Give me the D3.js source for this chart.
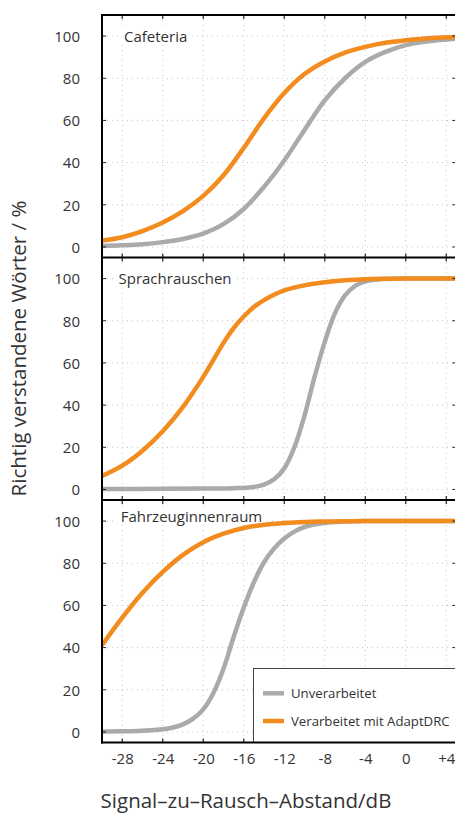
<!DOCTYPE html>
<html>
<head>
<meta charset="utf-8">
<script src="https://cdn.jsdelivr.net/npm/d3@7"></script>
<style>
  html, body { margin: 0; padding: 0; background: #fff; }
  svg { display: block; }
  text { font-family: "Open Sans", "Noto Sans", sans-serif; fill: #333; }
</style>
</head>
<body>
<svg id="chart" width="455" height="814"></svg>
<script>
// ---------- data ----------
const panelTitles = ["Cafeteria", "Sprachrauschen", "Fahrzeuginnenraum"];
const seriesNames = ["Unverarbeitet", "Verarbeitet mit AdaptDRC"];
const xTicks = [-28, -24, -20, -16, -12, -8, -4, 0, 4];
const xTickLabels = ["-28", "-24", "-20", "-16", "-12", "-8", "-4", "0", "+4"];
const yTicks = [0, 20, 40, 60, 80, 100];

// Cafeteria
const cafSnr      = [-30, -28, -26, -24, -22, -20, -18, -16, -14, -12, -10, -8, -6, -4, -2, 0, 2, 4, 5];
const cafRaw      = [0.5, 0.8, 1.3, 2.3, 3.8, 6.3, 10.8, 18, 28.5, 41, 55.5, 69.5, 80, 87.8, 92.5, 95.7, 97.4, 98.4, 98.8];
const cafDrc      = [3, 4.6, 7.5, 11.6, 17, 24.2, 34, 47, 61, 73, 82, 88, 92.2, 94.9, 96.8, 98, 98.9, 99.4, 99.6];

// Sprachrauschen
const sprRawSnr   = [-30, -24, -20, -17, -15, -14, -13, -12, -11, -10, -9, -8, -7, -6, -5, -4, -3, -2, 0, 5];
const sprRaw      = [0.2, 0.3, 0.4, 0.6, 1.2, 2.3, 4.8, 10, 20, 35, 53.5, 70, 83.5, 92, 96.6, 98.7, 99.5, 99.8, 100, 100];
const sprDrcSnr   = [-30, -28, -26, -24, -22, -20, -18, -17, -16, -15, -14, -12, -10, -8, -6, -4, -2, 0, 5];
const sprDrc      = [6.4, 11.3, 18.4, 27.6, 39.2, 53.4, 69.5, 76.5, 82, 86.5, 89.8, 94.4, 96.8, 98.3, 99.2, 99.7, 99.9, 100, 100];

// Fahrzeuginnenraum
const fzgRawSnr   = [-30, -28, -26, -24, -23, -22, -21, -20, -19, -18, -17, -16, -15, -14, -13, -12, -11, -10, -8, -6, -4, 5];
const fzgRaw      = [0.2, 0.3, 0.6, 1.3, 2.1, 3.6, 6.3, 10.7, 18.5, 30, 45, 59, 71, 80.5, 87, 91.7, 95, 97.2, 99.2, 99.8, 100, 100];
const fzgDrcSnr   = [-30, -28, -26, -24, -22, -20, -18, -16, -14, -12, -10, -8, -6, -4, 5];
const fzgDrc      = [41.1, 54.2, 66, 75.9, 84, 90, 94, 96.7, 98.3, 99.1, 99.6, 99.8, 99.9, 100, 100];

const panels = [
  { title: panelTitles[0], raw: [cafSnr, cafRaw], drc: [cafSnr, cafDrc], tx: 124, tb: 41.7 },
  { title: panelTitles[1], raw: [sprRawSnr, sprRaw], drc: [sprDrcSnr, sprDrc], tx: 118.5, tb: 283.5 },
  { title: panelTitles[2], raw: [fzgRawSnr, fzgRaw], drc: [fzgDrcSnr, fzgDrc], tx: 120.7, tb: 522 }
];

// ---------- layout ----------
const colors = { raw: "#aaaaaa", drc: "#f28c1f" };
const svg = d3.select("#chart");
const left = 102, right = 456.4;
const panelTops = [15, 257.5, 500];
const panelH = 242.5;
const bottom = panelTops[2] + panelH;

const x = d3.scaleLinear().domain([-30, 5]).range([left, right]);

const defs = svg.append("defs");

panels.forEach((p, i) => {
  const top = panelTops[i], bot = top + panelH;
  const y = d3.scaleLinear().domain([-5, 110]).range([bot, top]);
  const g = svg.append("g");

  defs.append("clipPath").attr("id", "clip" + i)
    .append("rect").attr("x", left).attr("y", top).attr("width", right - left).attr("height", panelH);

  // grid
  g.append("g").selectAll("line").data(yTicks).join("line")
    .attr("x1", left).attr("x2", right)
    .attr("y1", d => y(d)).attr("y2", d => y(d))
    .attr("stroke", "#c4c4c4").attr("stroke-width", 1).attr("stroke-dasharray", "1,4");
  g.append("g").selectAll("line").data(xTicks).join("line")
    .attr("x1", d => x(d)).attr("x2", d => x(d))
    .attr("y1", top).attr("y2", bot)
    .attr("stroke", "#c4c4c4").attr("stroke-width", 1).attr("stroke-dasharray", "1,4");

  // title with white box
  const t = g.append("text").attr("x", p.tx).attr("y", p.tb)
    .attr("font-size", 15).text(p.title);
  const bb = t.node().getBBox();
  g.insert("rect", "text").attr("x", bb.x - 5).attr("y", p.tb - 16)
    .attr("width", bb.width + 8).attr("height", 19).attr("fill", "#fff");

  // curves
  const line = d3.line().x(d => x(d[0])).y(d => y(d[1])).curve(d3.curveCatmullRom.alpha(0.5));
  const cg = g.append("g").attr("clip-path", `url(#clip${i})`);
  const rawPts = p.raw[0].map((s, k) => [s, p.raw[1][k]]);
  const drcPts = p.drc[0].map((s, k) => [s, p.drc[1][k]]);
  cg.append("path").attr("d", line(rawPts)).attr("fill", "none")
    .attr("stroke", colors.raw).attr("stroke-width", 4.5);
  cg.append("path").attr("d", line(drcPts)).attr("fill", "none")
    .attr("stroke", colors.drc).attr("stroke-width", 4.5);
  g.node().appendChild(t.node());

  // y axis labels
  const yAxis = d3.axisLeft(y).tickValues(yTicks).tickSize(0).tickPadding(0);
  const ya = g.append("g").attr("transform", "translate(80,0)").call(yAxis);
  ya.select(".domain").remove();
  ya.selectAll("text").attr("font-size", 15).attr("font-family", "Open Sans, sans-serif").attr("fill", "#333").attr("dy", "0.35em");

  // inner ticks
  g.append("g").selectAll("line").data(yTicks).join("line")
    .attr("x1", left).attr("x2", left + 4).attr("y1", d => y(d)).attr("y2", d => y(d))
    .attr("stroke", "#222").attr("stroke-width", 1);
  g.append("g").selectAll("line").data(yTicks).join("line")
    .attr("x1", right - 4).attr("x2", right).attr("y1", d => y(d)).attr("y2", d => y(d))
    .attr("stroke", "#222").attr("stroke-width", 1);
  g.append("g").selectAll("line").data(xTicks).join("line")
    .attr("x1", d => x(d)).attr("x2", d => x(d)).attr("y1", top).attr("y2", top + 4)
    .attr("stroke", "#222").attr("stroke-width", 1.2);
  g.append("g").selectAll("line").data(xTicks).join("line")
    .attr("x1", d => x(d)).attr("x2", d => x(d)).attr("y1", bot - 4).attr("y2", bot)
    .attr("stroke", "#222").attr("stroke-width", 1.2);
});

// legend
const lg = svg.append("g");
lg.append("rect").attr("x", 253.5).attr("y", 668.5).attr("width", 220).attr("height", bottom - 668.5)
  .attr("fill", "#fff").attr("stroke", "#444").attr("stroke-width", 1);
[["raw", 693.3, 697.5], ["drc", 721, 725.5]].forEach((e, k) => {
  lg.append("line").attr("x1", 263).attr("x2", 284).attr("y1", e[1]).attr("y2", e[1])
    .attr("stroke", colors[e[0]]).attr("stroke-width", 4.5);
  lg.append("text").attr("x", 291).attr("y", e[2]).attr("font-size", 13.2).text(seriesNames[k]);
});

// frame
svg.append("line").attr("x1", left).attr("x2", left).attr("y1", panelTops[0] - 1).attr("y2", bottom + 1)
  .attr("stroke", "#000").attr("stroke-width", 2);
[panelTops[0], panelTops[1], panelTops[2], bottom].forEach(yy => {
  svg.append("line").attr("x1", left - 1).attr("x2", right + 2).attr("y1", yy).attr("y2", yy)
    .attr("stroke", "#000").attr("stroke-width", 2);
});

// x axis labels
const xAxis = d3.axisBottom(x).tickValues(xTicks).tickFormat((d, i) => xTickLabels[i]).tickSize(0).tickPadding(0);
const xa = svg.append("g").attr("transform", "translate(0,753)").call(xAxis);
xa.select(".domain").remove();
xa.selectAll("text").attr("font-size", 15).attr("font-family", "Open Sans, sans-serif").attr("fill", "#333").attr("dy", "0.71em");

// axis titles
svg.append("text").attr("x", 246).attr("y", 808).attr("text-anchor", "middle")
  .attr("font-size", 20.5).attr("fill", "#222").text("Signal–zu–Rausch–Abstand/dB");
svg.append("text").attr("transform", "translate(26,348.5) rotate(-90)").attr("text-anchor", "middle")
  .attr("font-size", 20.5).attr("fill", "#222").text("Richtig verstandene Wörter / %");
</script>
</body>
</html>
